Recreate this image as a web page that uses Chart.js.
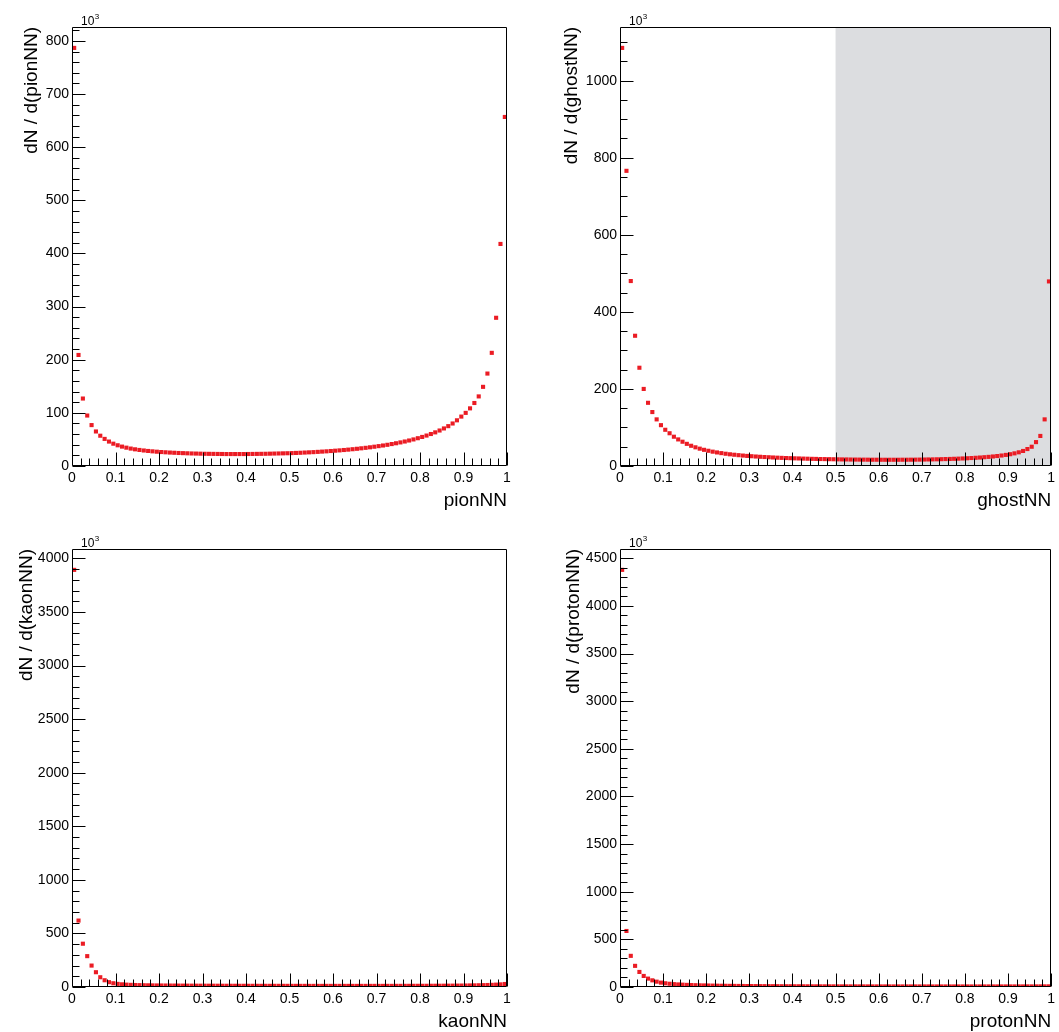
<!DOCTYPE html>
<html>
<head>
<meta charset="utf-8">
<script src="https://cdn.jsdelivr.net/npm/chart.js@4.4.1/dist/chart.umd.min.js"></script>
<style>
  html, body { margin: 0; padding: 0; background: #fff; }
  #page { position: relative; width: 1059px; height: 1032px; overflow: hidden; }
  canvas { position: absolute; }
</style>
</head>
<body>
<div id="page">
  <canvas id="cPion"   width="530" height="516" style="left:0;top:0"></canvas>
  <canvas id="cGhost"  width="529" height="516" style="left:530px;top:0"></canvas>
  <canvas id="cKaon"   width="530" height="516" style="left:0;top:516px"></canvas>
  <canvas id="cProton" width="529" height="516" style="left:530px;top:516px"></canvas>
</div>
<script>
/* ---- Datos (unidades de 10^3) ---- */
const nBins = 100;
const xTickValues = [0, 0.1, 0.2, 0.3, 0.4, 0.5, 0.6, 0.7, 0.8, 0.9, 1];
const xTickLabels = ['0', '0.1', '0.2', '0.3', '0.4', '0.5', '0.6', '0.7', '0.8', '0.9', '1'];

const pionTicks   = [0, 100, 200, 300, 400, 500, 600, 700, 800];
const ghostTicks  = [0, 200, 400, 600, 800, 1000];
const kaonTicks   = [0, 500, 1000, 1500, 2000, 2500, 3000, 3500, 4000];
const protonTicks = [0, 500, 1000, 1500, 2000, 2500, 3000, 3500, 4000, 4500];

const pionNN = [
  787, 209, 127, 95, 77, 65, 57, 51, 46, 42,
  39, 36.5, 34.5, 32.8, 31.4, 30.2, 29.2, 28.3, 27.6, 26.9,
  26.3, 25.8, 25.3, 24.9, 24.5, 24.2, 23.9, 23.6, 23.4, 23.2,
  23.0, 22.9, 22.8, 22.7, 22.6, 22.5, 22.5, 22.5, 22.5, 22.5,
  22.6, 22.7, 22.8, 22.9, 23.0, 23.2, 23.4, 23.6, 23.8, 24.0,
  24.3, 24.6, 24.9, 25.3, 25.7, 26.1, 26.6, 27.1, 27.6, 28.2,
  28.8, 29.4, 30.1, 30.8, 31.6, 32.4, 33.3, 34.2, 35.2, 36.3,
  37.4, 38.6, 39.9, 41.3, 42.8, 44.4, 46.1, 48.0, 50.0, 52.3,
  54.7, 57.3, 60.2, 63.3, 66.8, 70.7, 75.0, 80.0, 86, 93,
  100, 108.5, 118.6, 131, 149, 174, 213, 279, 418, 657
];

const ghostNN = [
  1085, 766, 480, 338, 255, 200, 164, 140, 121, 106,
  94, 85, 76, 69, 63, 57.5, 52.5, 48.5, 45, 42,
  39.5, 37.2, 35.2, 33.4, 31.8, 30.4, 29.2, 28.1, 27.1, 26.2,
  25.4, 24.6, 23.9, 23.3, 22.7, 22.1, 21.6, 21.1, 20.7, 20.3,
  19.9, 19.6, 19.2, 18.9, 18.6, 18.4, 18.1, 17.9, 17.7, 17.5,
  17.3, 17.1, 17.0, 16.8, 16.7, 16.6, 16.5, 16.4, 16.3, 16.3,
  16.2, 16.2, 16.2, 16.2, 16.2, 16.3, 16.3, 16.4, 16.5, 16.6,
  16.8, 17.0, 17.2, 17.4, 17.7, 18.0, 18.3, 18.7, 19.1, 19.6,
  20.1, 20.7, 21.3, 22.0, 22.8, 23.7, 24.7, 25.9, 27.2, 28.8,
  30.6, 32.8, 35.5, 39, 44, 50, 62, 78, 121, 479
];

const kaonNN = [
  3893, 620, 404, 288, 200, 138, 91, 63, 45, 35,
  29, 25, 22, 20, 18.5, 17.3, 16.4, 15.7, 15.1, 14.6,
  14.2, 13.9, 13.6, 13.3, 13.1, 12.9, 12.7, 12.5, 12.4, 12.2,
  12.1, 12.0, 11.9, 11.8, 11.7, 11.6, 11.5, 11.4, 11.3, 11.3,
  11.2, 11.1, 11.1, 11.0, 11.0, 10.9, 10.9, 10.8, 10.8, 10.7,
  10.7, 10.7, 10.6, 10.6, 10.6, 10.5, 10.5, 10.5, 10.5, 10.4,
  10.4, 10.4, 10.4, 10.4, 10.4, 10.4, 10.4, 10.4, 10.5, 10.5,
  10.5, 10.5, 10.6, 10.6, 10.7, 10.7, 10.8, 10.9, 11.0, 11.1,
  11.2, 11.3, 11.5, 11.7, 11.9, 12.1, 12.4, 12.7, 13.1, 13.5,
  14.0, 14.6, 15.3, 16.2, 17.3, 18.6, 20.2, 22.0, 24.5, 28.0
];

const protonNN = [
  4378, 588, 327, 222, 158, 116, 88, 70, 56, 46,
  39, 34, 30, 27, 24.5, 22.3, 20.5, 19.0, 17.7, 16.6,
  15.6, 14.7, 13.9, 13.2, 12.6, 12.0, 11.5, 11.0, 10.6, 10.2,
  9.9, 9.6, 9.3, 9.0, 8.8, 8.6, 8.4, 8.2, 8.0, 7.9,
  7.7, 7.6, 7.5, 7.4, 7.3, 7.2, 7.1, 7.0, 6.9, 6.9,
  6.8, 6.7, 6.7, 6.6, 6.6, 6.5, 6.5, 6.4, 6.4, 6.4,
  6.3, 6.3, 6.3, 6.2, 6.2, 6.2, 6.2, 6.1, 6.1, 6.1,
  6.1, 6.1, 6.0, 6.0, 6.0, 6.0, 6.0, 6.0, 6.0, 6.0,
  6.0, 6.0, 6.0, 6.0, 6.0, 6.1, 6.1, 6.1, 6.1, 6.2,
  6.2, 6.2, 6.3, 6.3, 6.4, 6.4, 6.5, 6.6, 6.7, 6.9
];

/* ---- Estilo ---- */
const FONT = '"Liberation Sans", Arial, Helvetica, sans-serif';
const RED = '#eb1c24';
const TXT = '#000';
const SHADE = '#dcdde0';

// centros de bin del histograma
const binCenters = Array.from({ length: nBins }, (_, i) => (i + 0.5) / nBins);

/* ---- Paneles ---- */
const panels = [
  { id: 'cPion',   values: pionNN,   yTicks: pionTicks,   yMinor: 20,  ySub: 5,
    yTitle: 'dN / d(pionNN)',   xTitle: 'pionNN',
    area: { l: 72, t: 27, r: 507, b: 466 }, yTitleX: 37 },
  { id: 'cGhost',  values: ghostNN,  yTicks: ghostTicks,  yMinor: 50,  ySub: 4,
    yTitle: 'dN / d(ghostNN)',  xTitle: 'ghostNN',
    area: { l: 90, t: 27, r: 524, b: 466 }, yTitleX: 47, shade: [0.5, 1] },
  { id: 'cKaon',   values: kaonNN,   yTicks: kaonTicks,   yMinor: 100, ySub: 5,
    yTitle: 'dN / d(kaonNN)',   xTitle: 'kaonNN',
    area: { l: 72, t: 33, r: 507, b: 471 }, yTitleX: 32 },
  { id: 'cProton', values: protonNN, yTicks: protonTicks, yMinor: 100, ySub: 5,
    yTitle: 'dN / d(protonNN)', xTitle: 'protonNN',
    area: { l: 90, t: 33, r: 524, b: 471 }, yTitleX: 49 },
];

/* ---- Plugin: marco, ticks internos, titulos estilo ROOT ---- */
const rootFrame = {
  id: 'rootFrame',
  beforeDatasetsDraw(chart, args, p) {
    if (!p.shade) return;
    const { ctx, chartArea: a, scales: { x } } = chart;
    const x0 = x.getPixelForValue(p.shade[0]);
    const x1 = x.getPixelForValue(p.shade[1]);
    ctx.save();
    ctx.fillStyle = SHADE;
    ctx.fillRect(x0, a.top, x1 - x0, a.bottom - a.top);
    ctx.restore();
  },
  afterDatasetsDraw(chart, args, p) {
    const { ctx, chartArea: a, scales: { x, y } } = chart;
    const L = Math.round(a.left) + 0.5, R = Math.round(a.right) - 0.5;
    const T = Math.round(a.top) + 0.5,  B = Math.round(a.bottom) - 0.5;
    ctx.save();
    ctx.strokeStyle = '#000';
    ctx.lineWidth = 1;
    ctx.beginPath();
    ctx.rect(L, T, R - L, B - T);

    // ticks eje Y
    for (let k = 0; k * p.yMinor <= y.max; k++) {
      const py = Math.round(y.getPixelForValue(k * p.yMinor)) + 0.5;
      const len = k % p.ySub === 0 ? 13 : 7;
      ctx.moveTo(L, py); ctx.lineTo(L + len, py);
    }
    // ticks eje X (0.02 menores, 0.1 mayores)
    for (let k = 0; k <= 50; k++) {
      const px = Math.round(x.getPixelForValue(k / 50)) + 0.5;
      const len = k % 5 === 0 ? 13 : 7;
      ctx.moveTo(px, B); ctx.lineTo(px, B - len);
    }
    ctx.stroke();

    // titulos
    ctx.fillStyle = TXT;
    ctx.font = `19px ${FONT}`;
    ctx.textBaseline = 'alphabetic';
    ctx.textAlign = 'right';
    ctx.fillText(p.xTitle, a.right, a.bottom + 40);

    ctx.save();
    ctx.translate(p.yTitleX, a.top);
    ctx.rotate(-Math.PI / 2);
    ctx.fillText(p.yTitle, 0, 0);
    ctx.restore();

    // 10^3
    ctx.textAlign = 'left';
    ctx.font = `12px ${FONT}`;
    ctx.fillText('10', a.left + 9, a.top - 2);
    const w = ctx.measureText('10').width;
    ctx.font = `8px ${FONT}`;
    ctx.fillText('3', a.left + 9 + w + 0.5, a.top - 8.5);
    ctx.restore();
  }
};

function buildPanel(p) {
  const canvas = document.getElementById(p.id);
  const W = canvas.width, H = canvas.height;
  const yMax = Math.max(...p.values) * 1.05;

  return new Chart(canvas, {
    type: 'scatter',
    data: {
      datasets: [{
        data: p.values.map((v, i) => ({ x: binCenters[i], y: v })),
        pointStyle: 'rect',
        pointRadius: 2.9,
        pointHoverRadius: 2.9,
        pointBorderWidth: 0,
        backgroundColor: RED,
        borderColor: RED,
      }],
    },
    options: {
      responsive: false,
      animation: false,
      devicePixelRatio: 1,
      events: [],
      layout: { padding: { top: p.area.t, right: W - p.area.r, left: 0, bottom: 0 } },
      plugins: {
        legend: { display: false },
        tooltip: { enabled: false },
        rootFrame: p,
      },
      scales: {
        x: {
          type: 'linear', min: 0, max: 1,
          grid: { display: false, drawTicks: false, tickLength: 0 },
          border: { display: false },
          afterBuildTicks: s => { s.ticks = xTickValues.map(v => ({ value: v })); },
          afterFit: s => { s.height = H - p.area.b; },
          ticks: {
            padding: 4, color: TXT, autoSkip: false, maxRotation: 0,
            font: { family: FONT, size: 14 },
            callback: (v, i) => xTickLabels[i],
          },
        },
        y: {
          type: 'linear', min: 0, max: yMax,
          grid: { display: false, drawTicks: false, tickLength: 0 },
          border: { display: false },
          afterBuildTicks: s => { s.ticks = p.yTicks.map(v => ({ value: v })); },
          afterFit: s => { s.width = p.area.l; },
          ticks: {
            padding: 3, color: TXT, autoSkip: false,
            font: { family: FONT, size: 14 },
            callback: (v, i) => String(p.yTicks[i]),
          },
        },
      },
    },
    plugins: [rootFrame],
  });
}

panels.forEach(buildPanel);
</script>
</body>
</html>
